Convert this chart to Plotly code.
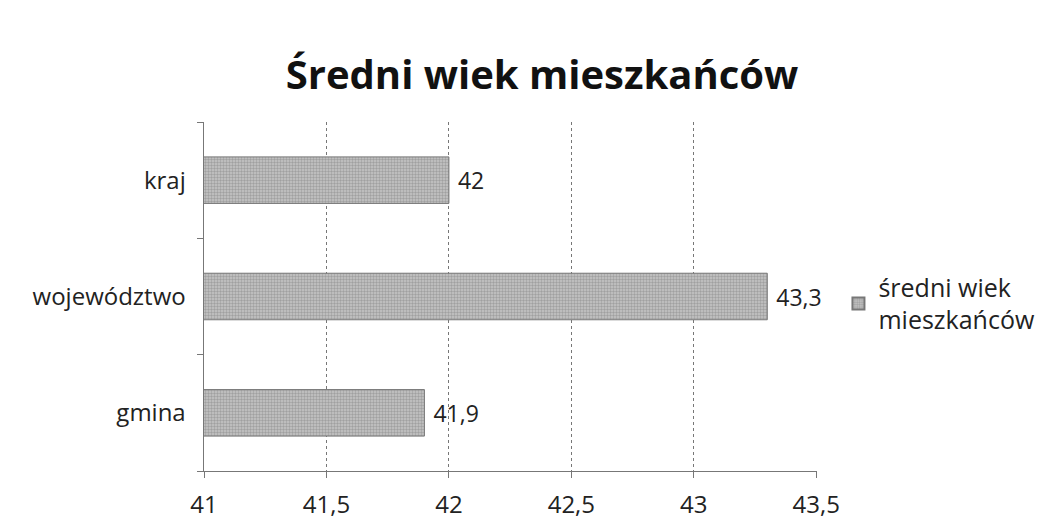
import plotly.graph_objects as go

categories = ["gmina", "województwo", "kraj"]
values = [41.9, 43.3, 42.0]
value_labels = ["41,9", "43,3", "42"]
x_ticks = [41, 41.5, 42, 42.5, 43, 43.5]
x_tick_labels = ["41", "41,5", "42", "42,5", "43", "43,5"]
series_name = "średni wiek<br>mieszkańców"
title = "Średni wiek mieszkańców"

FONT = "Open Sans, Liberation Sans, sans-serif"

fig = go.Figure()
fig.add_trace(go.Bar(
    y=categories, x=values, orientation="h",
    name=series_name,
    text=value_labels, texttemplate="\u00a0%{text}", textposition="outside",
    textfont=dict(size=23, color="#222", family=FONT),
    cliponaxis=False,
    width=0.4,
    marker=dict(
        color="#b0b0b0",
        line=dict(color="#777", width=1),
        pattern=dict(shape=".", fgcolor="#7a7a7a", bgcolor="#c6c6c6", size=3, solidity=0.5),
    ),
    showlegend=True,
))

fig.update_layout(
    width=1050, height=524,
    paper_bgcolor="white", plot_bgcolor="white",
    margin=dict(l=196, r=241, t=114, b=55),
    title=dict(text="<b>" + title + "</b>", x=0.5086, xanchor="center", y=0.872, yanchor="middle",
               font=dict(size=40, family=FONT, color="#111")),
    font=dict(family=FONT, size=24, color="#222"),
    separators=",.",
    legend=dict(x=1.035, y=0.48, xanchor="left", yanchor="middle",
                font=dict(size=25, family=FONT, color="#222"),
                itemwidth=30, itemsizing="constant", tracegroupgap=0),
    xaxis=dict(range=[41, 43.503], tickvals=x_ticks, ticktext=x_tick_labels,
               showgrid=True, gridcolor="#777", gridwidth=1, griddash="dot",
               showline=True, linecolor="#777", linewidth=1,
               ticks="outside", ticklen=6, tickcolor="#777", ticklabelstandoff=6,
               tickfont=dict(size=24, family=FONT, color="#222"), zeroline=False),
    yaxis=dict(showline=True, linecolor="#777", linewidth=1,
               ticks="outside", ticklen=6, tickcolor="#777", tickson="boundaries",
               showgrid=False, ticksuffix="  ",
               tickfont=dict(size=24, family=FONT, color="#222")),
)

fig.write_html("out.html")
